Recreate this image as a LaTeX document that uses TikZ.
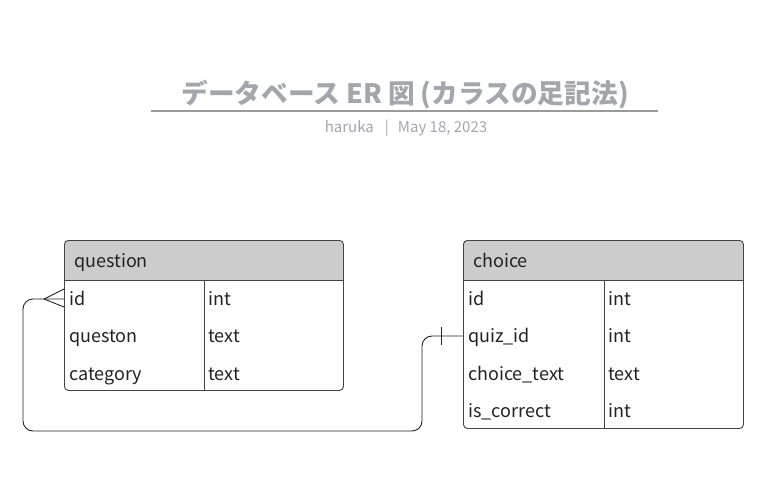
\documentclass[tikz,border=0pt]{standalone}
\usepackage{fontspec}
\usetikzlibrary{calc}
\setmainfont{Noto Sans CJK JP}
\definecolor{titlegray}{HTML}{A3A6AD}
\definecolor{rulegray}{HTML}{9A9A9A}
\definecolor{hdr}{HTML}{CCCCCC}
\definecolor{frame}{HTML}{444444}
\definecolor{ink}{HTML}{222222}
\tikzset{
  tblframe/.style={draw=frame, line width=0.9pt, rounded corners=4pt, inner sep=0pt, anchor=north west},
  sep/.style={draw=frame, line width=0.9pt},
  cell/.style={anchor=base west, inner sep=0pt, text=ink, font=\fontsize{18}{18}\selectfont},
  conn/.style={draw=ink, line width=0.9pt, rounded corners=10pt},
}
\begin{document}
\begin{tikzpicture}[x=1pt,y=-1pt]
\useasboundingbox (0,0) rectangle (779,488);
% title
\node[text=titlegray, font=\fontsize{26.7}{26.7}\bfseries\selectfont] (title) at (405,94.5) {データベース ER 図 (カラスの足記法)};
\draw[rulegray, line width=1.2pt] (151,111) -- (658,111);
\node[text=titlegray, font=\fontsize{15}{15}\selectfont] (sub) at (406,128.5) {haruka\hspace{11pt}|\hspace{9pt}May 18, 2023};

% question table
\fill[hdr, rounded corners=4pt] (64,280) -- (64,240) -- (343,240) -- (343,280);
\node[tblframe, minimum width=279pt, minimum height=150pt] (question) at (64,240) {};
\draw[sep] (64,280) -- (343,280);
\draw[sep] (204,280) -- (204,390);
\node[cell] (q-h) at (74,267.5) {question};
\node[cell] (q-id) at (69,305.5) {id};
\node[cell] (q-idt) at (208,305.5) {int};
\node[cell] (q-qu) at (69,342.5) {queston};
\node[cell] (q-qut) at (208,342.5) {text};
\node[cell] (q-ca) at (69,380) {category};
\node[cell] (q-cat) at (208,380) {text};

% choice table
\fill[hdr, rounded corners=4pt] (463,280) -- (463,240) -- (743,240) -- (743,280);
\node[tblframe, minimum width=280pt, minimum height=188pt] (choice) at (463,240) {};
\draw[sep] (463,280) -- (743,280);
\draw[sep] (604,280) -- (604,428);
\node[cell] (c-h) at (473,267.5) {choice};
\node[cell] (c-id) at (468,305.5) {id};
\node[cell] (c-idt) at (608,305.5) {int};
\node[cell] (c-qz) at (468,342.5) {quiz\_id};
\node[cell] (c-qzt) at (608,342.5) {int};
\node[cell] (c-ct) at (468,380) {choice\_text};
\node[cell] (c-ctt) at (608,380) {text};
\node[cell] (c-ic) at (468,417) {is\_correct};
\node[cell] (c-ict) at (608,417) {int};

% connector
\coordinate (qa) at ($(question.north west)+(0,59)$);
\coordinate (ca) at ($(choice.north west)+(0,96)$);
\draw[conn] (qa) -- ++(-41,0) -- ++(0,132) -- ++(399,0) |- (ca);
% crow's foot
\draw[draw=ink, line width=0.9pt] ($(qa)+(0,-10)$) -- ($(qa)+(-20,0)$) -- ($(qa)+(0,8)$);
% one bar
\draw[draw=ink, line width=0.9pt] ($(ca)+(-22,-9)$) -- ($(ca)+(-22,9)$);
\end{tikzpicture}
\end{document}
